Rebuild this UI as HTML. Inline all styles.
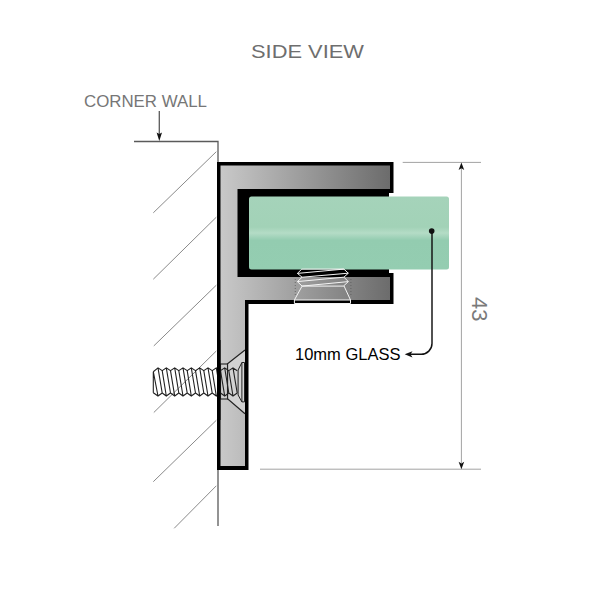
<!DOCTYPE html>
<html><head><meta charset="utf-8">
<style>
html,body{margin:0;padding:0;background:#fff;width:600px;height:600px;overflow:hidden}
svg{display:block}
text{font-family:"Liberation Sans",sans-serif}
</style></head>
<body>
<svg width="600" height="600" viewBox="0 0 600 600">
<defs>
<linearGradient id="gm" gradientUnits="userSpaceOnUse" x1="220" y1="0" x2="390" y2="0">
<stop offset="0" stop-color="#c9c9c9"/>
<stop offset="1" stop-color="#6c6c6c"/>
</linearGradient>
<linearGradient id="gg" gradientUnits="userSpaceOnUse" x1="0" y1="196.5" x2="0" y2="269.5">
<stop offset="0" stop-color="#a5d3ba"/>
<stop offset="0.42" stop-color="#a2d2b7"/>
<stop offset="0.5" stop-color="#b4dcc6"/>
<stop offset="0.6" stop-color="#93ccb0"/>
<stop offset="1" stop-color="#94cdb1"/>
</linearGradient>
</defs>

<!-- titles -->
<text x="251" y="58" font-size="18.5" fill="#6e6e6e" textLength="113" lengthAdjust="spacingAndGlyphs">SIDE VIEW</text>
<text x="84" y="106.5" font-size="16" fill="#767676" textLength="123" lengthAdjust="spacingAndGlyphs">CORNER WALL</text>

<!-- wall -->
<g stroke="#5a5a5a" stroke-width="1.3" fill="none">
<path d="M134 141.5 H218 V526"/>
<path d="M159.3 111 V134"/>
</g>
<path d="M159.3 141 L156.6 132.5 L159.3 134 L162 132.5 Z" fill="#111"/>
<g stroke="#8a8a8a" stroke-width="1" fill="none">
<path d="M153.3 212.8 L216.3 151.7"/>
<path d="M153.3 279.2 L216.3 217.2"/>
<path d="M153.8 345.9 L216.3 285.2"/>
<path d="M153.8 412.5 L216.3 351"/>
<path d="M153.3 481.7 L216.3 420.3"/>
<path d="M174.2 528.3 L216.3 485.8"/>
</g>

<!-- profile outer black -->
<path fill="#000" d="M217 162 H393.5 V193 H389 V273 H393.5 V304 H248.5 V470 H217 Z"/>
<!-- gray -->
<path fill="url(#gm)" d="M220.5 165.5 H390 V189 H237.5 V277 H390 V300 H245 V466 H220.5 Z"/>
<!-- glass -->
<rect x="249" y="196.5" width="200" height="73" rx="2.5" fill="url(#gg)"/>

<!-- grub screw -->
<g stroke="#f4f4f4" stroke-width="1" fill="none" stroke-linejoin="miter">
<path d="M301.8 269.1 H343.9 L348.3 273.2 L343.9 277.2 L348.3 281.6 L343.9 285.7 L350.5 300 V303.5 H294.4 V300 L302.1 286.1 L297.4 281.6 L302.1 277.2 L297.4 273.4 Z"/>
<path d="M297.4 273.4 L343.9 269.1"/>
<path d="M302.1 277.2 L348.3 273.2"/>
<path d="M297.4 281.6 L343.9 277.2"/>
<path d="M302.1 286.1 L348.3 281.6"/>
<path d="M302.1 286.1 H343.9"/>
<path d="M294.4 300 H350.5"/>
</g>
<g stroke="#555" stroke-width="0.7" stroke-dasharray="1 2" fill="none">
<path d="M295.3 279 V296"/>
<path d="M350.9 279 V296"/>
</g>

<!-- wall screw countersink -->
<path d="M245 350 L227.5 363.8 V398.8 L245 413.8" fill="#d2d2d2" stroke="#222" stroke-width="1.2"/>
<rect x="220.5" y="364" width="7" height="35" fill="#cdcdcd" stroke="#222" stroke-width="1.1"/>
<!-- screw head -->
<path d="M244.5 362.5 H241.9 L238.1 370 V395 L241.9 401.9 H244.5 Z" fill="#d6d6d6" stroke="#222" stroke-width="1"/>
<path d="M241.9 362.5 V401.9" stroke="#222" stroke-width="1"/>

<!-- screw shank -->
<path stroke="#222" stroke-width="1.1" fill="none" d="M153.3 371.7 L158.0 367.9 L162.2 370.7 L166.3 367.9 L170.5 370.7 L174.7 367.9 L178.8 370.7 L183.0 367.9 L187.2 370.7 L191.3 367.9 L195.5 370.7 L199.7 367.9 L203.8 370.7 L208.0 367.9 L212.2 370.7 L216.3 367.9 L220.5 370.7 L224.7 367.9 L228.8 370.7 L233.0 367.9 L237.2 370.7 M153.3 392.7 L158.0 396 L162.2 393 L166.3 396 L170.5 393 L174.7 396 L178.8 393 L183.0 396 L187.2 393 L191.3 396 L195.5 393 L199.7 396 L203.8 393 L208.0 396 L212.2 393 L216.3 396 L220.5 393 L224.7 396 L228.8 393 L233.0 396 L237.2 393 M153.3 371.7 V392.7 M153.3 371.7 L158 396 M158.0 367.9 L162.2 393 M162.2 370.7 L166.3 396 M166.3 367.9 L170.5 393 M170.5 370.7 L174.7 396 M174.7 367.9 L178.8 393 M178.8 370.7 L183.0 396 M183.0 367.9 L187.2 393 M187.2 370.7 L191.3 396 M191.3 367.9 L195.5 393 M195.5 370.7 L199.7 396 M199.7 367.9 L203.8 393 M203.8 370.7 L208.0 396 M208.0 367.9 L212.2 393 M212.2 370.7 L216.3 396 M216.3 367.9 L220.5 393 M220.5 370.7 L224.7 396 M224.7 367.9 L228.8 393 M228.8 370.7 L233.0 396 M233.0 367.9 L237.2 393"/>

<!-- post left outline over screw -->
<rect x="217" y="340" width="3.5" height="80" fill="#000"/>

<!-- glass label arrow -->
<circle cx="431.7" cy="231.1" r="2.8" fill="#111"/>
<path d="M432 231 V343.5 A10.8 10.8 0 0 1 421.2 354.3 H410" stroke="#111" stroke-width="1.45" fill="none"/>
<path d="M404.7 354.3 L412.5 351.2 L410.5 354.3 L412.5 357.4 Z" fill="#111"/>
<text x="295" y="360" font-size="16.5" fill="#000">10mm GLASS</text>

<!-- dimension -->
<g stroke="#a3a3a3" stroke-width="1" fill="none">
<path d="M402.7 162.4 H481"/>
<path d="M260 469.2 H481"/>
<path d="M461.4 168 V463"/>
</g>
<path d="M461.4 162.6 L458.6 170 L461.4 168.2 L464.2 170 Z" fill="#111"/>
<path d="M461.4 469.2 L458.6 461.8 L461.4 463.6 L464.2 461.8 Z" fill="#111"/>
<text transform="translate(471.5 297) rotate(90)" font-size="22" fill="#7a7a7a">43</text>
</svg>
</body></html>
